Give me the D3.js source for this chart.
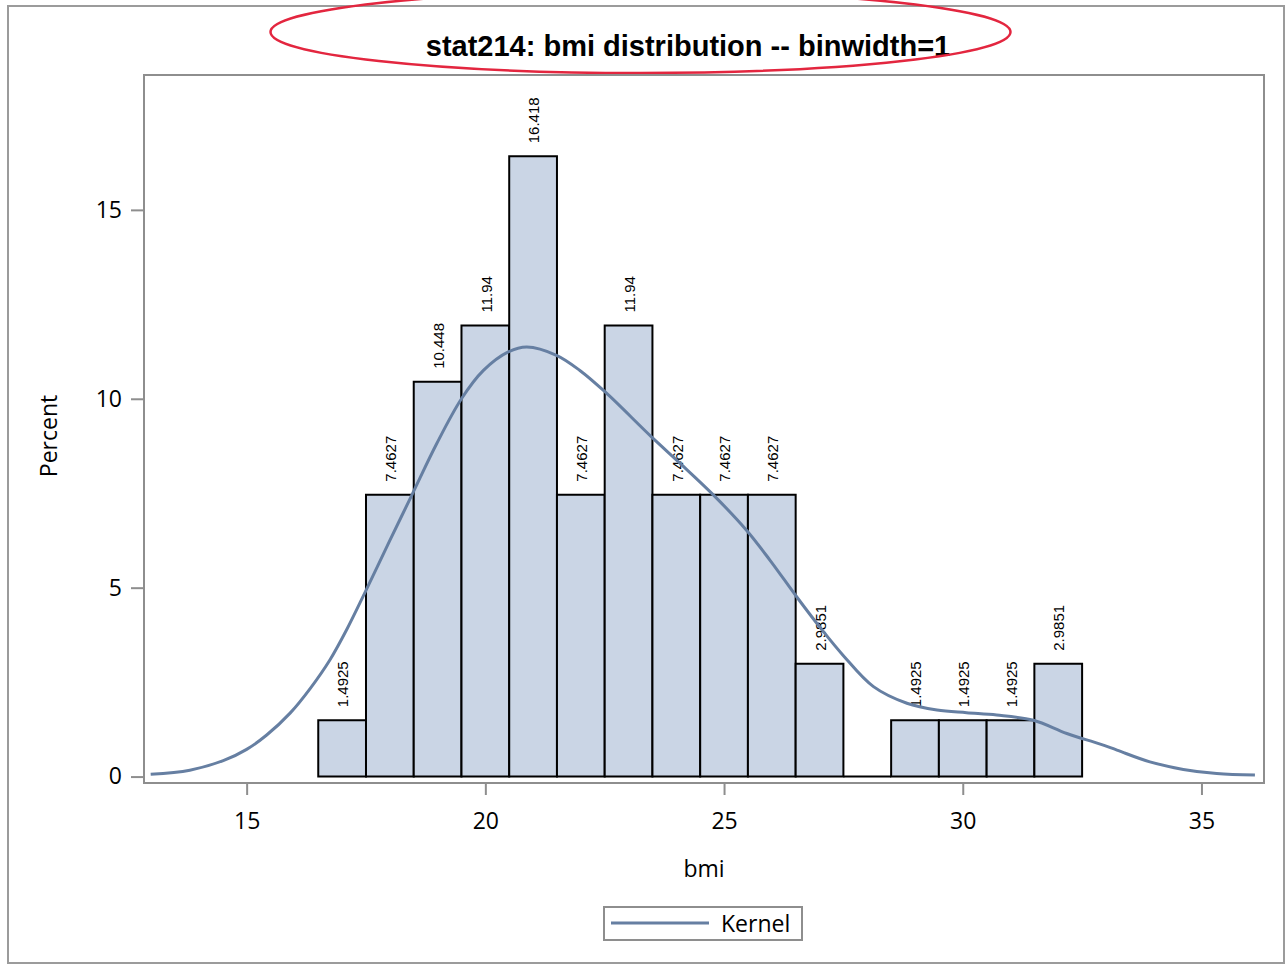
<!DOCTYPE html>
<html>
<head>
<meta charset="utf-8">
<script src="https://cdn.jsdelivr.net/npm/d3@7"></script>
<style>
  html, body { margin: 0; padding: 0; background: #fff; }
  svg { display: block; }
</style>
</head>
<body>
<svg id="chart" width="1285" height="964"></svg>
<script>
// Histogram of bmi (bin width 1), percent of observations per bin
const binCenters = [17, 18, 19, 20, 21, 22, 23, 24, 25, 26, 27, 28, 29, 30, 31, 32];
const binPercents = [1.4925, 7.4627, 10.448, 11.94, 16.418, 7.4627, 11.94, 7.4627, 7.4627, 7.4627, 2.9851, 0, 1.4925, 1.4925, 1.4925, 2.9851];
const binLabels = ["1.4925", "7.4627", "10.448", "11.94", "16.418", "7.4627", "11.94", "7.4627", "7.4627", "7.4627", "2.9851", "", "1.4925", "1.4925", "1.4925", "2.9851"];
const binWidth = 1;

// Kernel density estimate (scaled to percent)
const kernelX = [12.99, 13.81, 14.51, 15.0, 15.42, 15.91, 16.33, 16.75, 17.10, 17.47, 18.0, 18.46, 18.98, 19.5, 19.96, 20.48, 20.87, 21.49, 21.98, 22.51, 23.48, 24.08, 24.78, 25.47, 25.96, 26.52, 27.01, 27.5, 28.13, 28.83, 29.46, 30.08, 30.71, 31.48, 32.18, 32.88, 33.23, 33.92, 34.62, 35.32, 36.12];
const kernelY = [0.06, 0.17, 0.42, 0.72, 1.1, 1.68, 2.33, 3.1, 3.9, 4.85, 6.25, 7.45, 8.81, 10.0, 10.75, 11.24, 11.37, 11.15, 10.75, 10.18, 8.99, 8.29, 7.45, 6.52, 5.73, 4.76, 3.95, 3.2, 2.38, 1.94, 1.76, 1.69, 1.63, 1.49, 1.14, 0.86, 0.70, 0.39, 0.19, 0.08, 0.04];

const xTicks = [15, 20, 25, 30, 35];
const yTicks = [0, 5, 10, 15];

const titleText = "stat214: bmi distribution -- binwidth=1";
const xLabel = "bmi";
const yLabel = "Percent";
const legendLabel = "Kernel";

const svg = d3.select("#chart");
const frame = { left: 144, right: 1264, top: 75, bottom: 783 };

const x = d3.scaleLinear().domain([12.85, 36.31]).range([frame.left, frame.right]);
const y = d3.scaleLinear().domain([-0.17, 18.57]).range([frame.bottom, frame.top]);

const axisFont = "'Open Sans', 'Noto Sans', sans-serif";
const gray = "#8e8e8e";
const barFill = "#cad5e5";
const kernelColor = "#667fa2";

// outer graph border
svg.append("rect")
  .attr("x", 8).attr("y", 6).attr("width", 1276).attr("height", 957)
  .attr("fill", "none").attr("stroke", "#9b9b9b").attr("stroke-width", 2);

// title
svg.append("text")
  .attr("x", 688).attr("y", 56)
  .attr("text-anchor", "middle")
  .attr("font-family", "'Liberation Sans', Arial, sans-serif")
  .attr("font-weight", "bold")
  .attr("font-size", 29)
  .attr("fill", "#000")
  .text(titleText);

// highlight ellipse around the title
svg.append("ellipse")
  .attr("cx", 640.5).attr("cy", 32).attr("rx", 370).attr("ry", 41)
  .attr("fill", "none").attr("stroke", "#e3263f").attr("stroke-width", 2.5);

// bars (drawn as closed paths so an empty bin still shows its outline)
const bars = binCenters.map((c, i) => ({ c, v: binPercents[i], label: binLabels[i] }));
svg.append("g").selectAll("path").data(bars).join("path")
  .attr("d", d => {
    const x0 = x(d.c - binWidth / 2), x1 = x(d.c + binWidth / 2);
    const y0 = y(0), y1 = y(d.v);
    return `M${x0},${y0}V${y1}H${x1}V${y0}Z`;
  })
  .attr("fill", barFill)
  .attr("stroke", "#000")
  .attr("stroke-width", 2);

// bar value labels (rotated)
svg.append("g").selectAll("text").data(bars.filter(d => d.label)).join("text")
  .attr("transform", d => `translate(${x(d.c) + 1},${y(d.v) - 13}) rotate(-90)`)
  .attr("text-anchor", "start")
  .attr("dy", "0.35em")
  .attr("font-family", "'Liberation Sans', Arial, sans-serif")
  .attr("font-size", 15)
  .attr("fill", "#000")
  .text(d => d.label);

// kernel curve
const kernelPts = kernelX.map((v, i) => [v, kernelY[i]]);
svg.append("path")
  .datum(kernelPts)
  .attr("d", d3.line().x(d => x(d[0])).y(d => y(d[1])).curve(d3.curveCatmullRom.alpha(0.5)))
  .attr("fill", "none")
  .attr("stroke", kernelColor)
  .attr("stroke-width", 3)
  .attr("stroke-linejoin", "round");

// plot frame
svg.append("rect")
  .attr("x", frame.left).attr("y", frame.top)
  .attr("width", frame.right - frame.left).attr("height", frame.bottom - frame.top)
  .attr("fill", "none").attr("stroke", gray).attr("stroke-width", 2);

// x axis
const xAxis = svg.append("g")
  .attr("transform", `translate(0,${frame.bottom})`)
  .call(d3.axisBottom(x).tickValues(xTicks).tickSize(12).tickPadding(18).tickFormat(d3.format("d")));
xAxis.select(".domain").remove();
xAxis.selectAll(".tick line").attr("stroke", gray).attr("stroke-width", 2);
xAxis.selectAll(".tick text").attr("font-family", axisFont).attr("font-size", 23).attr("fill", "#000");

// y axis
const yAxis = svg.append("g")
  .attr("transform", `translate(${frame.left},0)`)
  .call(d3.axisLeft(y).tickValues(yTicks).tickSize(13).tickPadding(9).tickFormat(d3.format("d")));
yAxis.select(".domain").remove();
yAxis.selectAll(".tick line").attr("stroke", gray).attr("stroke-width", 2);
yAxis.selectAll(".tick text").attr("font-family", axisFont).attr("font-size", 23).attr("fill", "#000");

// axis labels
svg.append("text")
  .attr("x", 704).attr("y", 877)
  .attr("text-anchor", "middle")
  .attr("font-family", axisFont).attr("font-size", 23).attr("fill", "#000")
  .text(xLabel);

svg.append("text")
  .attr("transform", "translate(57,436) rotate(-90)")
  .attr("text-anchor", "middle")
  .attr("font-family", axisFont).attr("font-size", 23).attr("fill", "#000")
  .text(yLabel);

// legend
const legend = svg.append("g");
legend.append("rect")
  .attr("x", 604).attr("y", 907).attr("width", 198).attr("height", 33)
  .attr("fill", "#fff").attr("stroke", gray).attr("stroke-width", 2);
legend.append("line")
  .attr("x1", 611).attr("x2", 709).attr("y1", 923).attr("y2", 923)
  .attr("stroke", kernelColor).attr("stroke-width", 3);
legend.append("text")
  .attr("x", 721).attr("y", 932)
  .attr("font-family", axisFont).attr("font-size", 23).attr("fill", "#000")
  .text(legendLabel);
</script>
</body>
</html>
